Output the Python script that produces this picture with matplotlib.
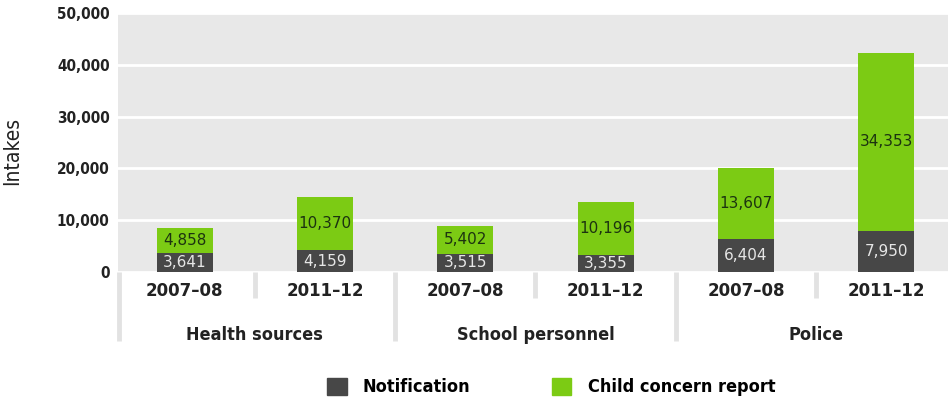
import matplotlib
matplotlib.use("Agg")
import matplotlib.pyplot as plt
from matplotlib.patches import Patch
from matplotlib.transforms import blended_transform_factory

# Intakes by source and year
groups = ["Health sources", "School personnel", "Police"]
years = ["2007–08", "2011–12"]
notification = [3641, 4159, 3515, 3355, 6404, 7950]
child_concern = [4858, 10370, 5402, 10196, 13607, 34353]

dark = "#474747"
green = "#7ccb14"
bg = "#e8e8e8"
sep = "#e2e2e2"
txt = "#222222"

fig = plt.figure(figsize=(9.48, 4.05), dpi=100)
ax = fig.add_axes([118 / 948, 133 / 405, 830 / 948, 259 / 405])
ax.set_facecolor(bg)

x = list(range(len(notification)))
width = 0.4
ax.bar(x, notification, width, color=dark, zorder=3)
ax.bar(x, child_concern, width, bottom=notification, color=green, zorder=3)

for xi, n, c in zip(x, notification, child_concern):
    ax.text(xi, n / 2, f"{n:,}", ha="center", va="center", color="#e6e6e6",
            fontsize=11, zorder=4)
    ax.text(xi, n + c / 2, f"{c:,}", ha="center", va="center", color="#1c3310",
            fontsize=11, zorder=4)

ax.set_xlim(-0.475, 5.44)
ax.set_ylim(0, 50000)
ax.set_yticks(range(0, 50001, 10000))
ax.set_yticklabels([f"{v:,}" for v in range(0, 50001, 10000)],
                   fontweight="bold", fontsize=11, fontstretch="condensed", color=txt)
ax.yaxis.grid(True, color="white", linewidth=2, zorder=1)
ax.set_axisbelow(True)

ax.set_xticks(x)
ax.set_xticklabels(years * len(groups), fontweight="bold", fontsize=12, color=txt)
ax.tick_params(length=0)
ax.tick_params(axis="x", pad=7)
ax.tick_params(axis="y", pad=6)
for s in ax.spines.values():
    s.set_visible(False)

ax.set_ylabel("Intakes", fontsize=15, color=txt, fontstretch="condensed")
ax.yaxis.set_label_coords(-0.115, 0.467)

# separators below the axis between years and between groups
trans = blended_transform_factory(ax.transData, ax.transAxes)
for xs in [-0.47, 0.5, 1.5, 2.5, 3.5, 4.5]:
    long_line = xs in (-0.47, 1.5, 3.5)
    ax.plot([xs, xs], [0, -0.265 if long_line else -0.10], transform=trans,
            color=sep, linewidth=3.5, clip_on=False, solid_capstyle="butt")

for gi, g in enumerate(groups):
    ax.text(gi * 2 + 0.5, -0.243, g, transform=trans, ha="center", va="center",
            fontsize=13, fontweight="bold", fontstretch="condensed", color=txt)

handles = [Patch(color=dark, label="Notification"),
           Patch(color=green, label="Child concern report")]
fig.legend(handles=handles, loc="center", bbox_to_anchor=(551 / 948, 1 - 387 / 405),
           ncol=2, frameon=False, handlelength=1.1, handleheight=1.1,
           columnspacing=4.5, handletextpad=0.9,
           prop={"weight": "bold", "size": 13, "stretch": "condensed"})

fig.savefig("out.png", dpi=100)
